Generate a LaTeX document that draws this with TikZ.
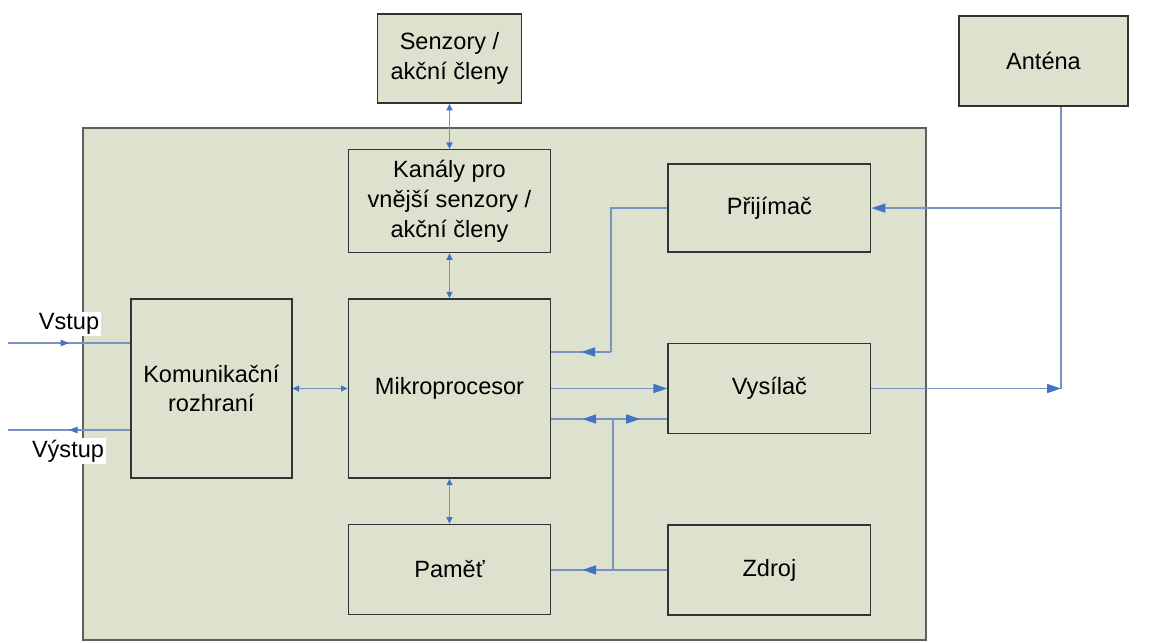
\documentclass[tikz,border=0pt]{standalone}
\usepackage{fontspec}
\setmainfont{Liberation Sans}
\usepackage{tikz}
\usetikzlibrary{arrows.meta,positioning,decorations.markings}
\definecolor{PanelFill}{HTML}{DDE2CE}
\definecolor{PanelEdge}{HTML}{5F5F5F}
\definecolor{WireBlue}{HTML}{7A92C0}
\definecolor{TipBlue}{HTML}{4472C4}

\begin{document}
\begin{tikzpicture}[x=0.2mm,y=-0.2mm,node distance=9mm,
  block/.style={draw=black!80,line width=0.8pt,fill=PanelFill,inner sep=0pt,
    minimum width=40.5mm,minimum height=18mm,align=center,
    font=\fontsize{13.4}{17}\selectfont},
  tag/.style={fill=white,inner sep=1pt,font=\fontsize{13.4}{17}\selectfont},
  wire/.style={draw=WireBlue,line width=0.8pt},
  endtip/.style={-{Triangle[color=TipBlue,length=2.8mm,width=1.8mm]}},
  twoway/.style={{Triangle[color=TipBlue,length=1.3mm,width=1.2mm]}-{Triangle[color=TipBlue,length=1.3mm,width=1.2mm]}},
  midtip/.style={postaction={decorate},decoration={markings,
    mark=at position 0.5 with {\arrow{Triangle[color=TipBlue,length=2.8mm,width=1.8mm]}}}},
  smalltip/.style={postaction={decorate},decoration={markings,
    mark=at position 0.5 with {\arrow{Triangle[color=TipBlue,length=1.7mm,width=1.3mm]}}}}]
\useasboundingbox (0,0) rectangle (1150,643);
% device panel
\draw[draw=PanelEdge,line width=1.2pt,fill=PanelFill] (83,128) rectangle (926,640);

\node[block,minimum height=35.8mm] (mcu) at (449.5,388.5) {Mikroprocesor};
\node[block,minimum height=20.6mm,above=of mcu] (chan) {Kanály pro\\vnější senzory /\\akční členy};
\node[block,minimum width=28.8mm,minimum height=17.8mm,above=of chan] (sens) {Senzory /\\akční členy};
\node[block,minimum width=32.2mm,minimum height=35.8mm,left=11mm of mcu] (comm) {Komunikační\\rozhraní};
\node[block,below=of mcu] (mem) {Paměť};
\node[block,right=23.2mm of mcu] (tx) {Vysílač};
\node[block,minimum height=17.6mm,above=18mm of tx] (rx) {Přijímač};
\node[block,below=18mm of tx] (psu) {Zdroj};
\node[block,minimum width=33.8mm] (ant) at (1043.5,61) {Anténa};

\node[tag] (inlbl) at (69,324) {Vstup};
\node[tag] (outlbl) at (68,451) {Výstup};

\coordinate (inend) at (8,343);
\coordinate (outend) at (8,430);
\coordinate (rxbend) at (611,352);
\coordinate (pwr) at (psu.west -| 613,0);
\coordinate (pwrtop) at (613,419);
\coordinate (feed) at (tx.east -| 1061,0);

% external ports
\draw[wire,smalltip] (inend) -- (inend -| comm.west);
\draw[wire,smalltip] (comm.west |- outend) -- (outend);

% data links
\draw[wire,twoway] (sens.south) -- (chan.north);
\draw[wire,twoway] (chan.south) -- (mcu.north);
\draw[wire,twoway] (mcu.south) -- (mem.north);
\draw[wire,twoway] (comm.east) -- (mcu.west);
\draw[wire] (rx.west) -| (rxbend);
\draw[wire,midtip] (rxbend) -- (rxbend -| mcu.east);
\draw[wire,endtip] (mcu.east |- tx.west) -- (tx.west);

% power
\draw[wire] (psu.west) -- (pwr) -- (pwrtop);
\draw[wire,midtip] (pwr) -- (pwr -| mem.east);
\draw[wire,midtip] (pwrtop) -- (pwrtop -| mcu.east);
\draw[wire,midtip] (pwrtop) -- (pwrtop -| tx.west);

% antenna
\draw[wire] (ant.south -| feed) -- (feed);
\draw[wire,endtip] (tx.east) -- (feed);
\draw[wire,endtip] (rx.east -| feed) -- (rx.east);
\end{tikzpicture}
\end{document}
